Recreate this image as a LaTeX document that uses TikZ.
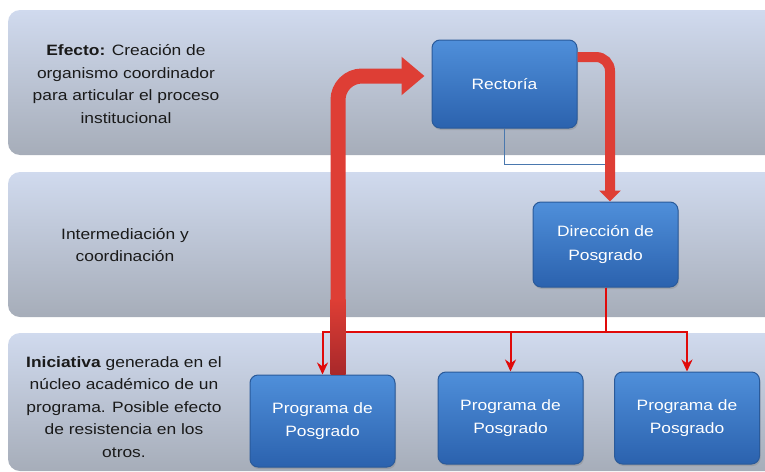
\documentclass[tikz,border=0pt]{standalone}
\usepackage{fontspec}
\setmainfont{Liberation Sans}[FakeStretch=1.16]
\usepackage{tikz}
\usetikzlibrary{arrows.meta, positioning, calc, shadows}
\definecolor{bandaTop}{HTML}{D0DAEE}
\definecolor{bandaBot}{HTML}{A6ADB9}
\definecolor{cajaTop}{HTML}{4F8FDA}
\definecolor{cajaBot}{HTML}{2B62AE}
\definecolor{cajaBorde}{HTML}{2A5A9A}
\definecolor{flechaRoja}{HTML}{DE3E35}
\definecolor{flechaOscura}{HTML}{A8282A}
\definecolor{ramaRoja}{HTML}{E00A0A}
\definecolor{enlaceAzul}{HTML}{4A78AE}
\definecolor{textoOscuro}{HTML}{1A1A1A}

\begin{document}
\begin{tikzpicture}[x=1pt, y=-1pt,
  banda/.style={top color=bandaTop, bottom color=bandaBot, rounded corners=12pt},
  unidad/.style={
    draw=cajaBorde, line width=1pt, top color=cajaTop, bottom color=cajaBot,
    rounded corners=8pt, minimum width=145pt, minimum height=88pt,
    align=center, text=white, font=\fontsize{15}{23.5}\selectfont,
    drop shadow={opacity=0.35, shadow xshift=1pt, shadow yshift=-2pt}
  },
  nota/.style={align=center, text=textoOscuro, font=\fontsize{15}{22.5}\selectfont},
  gruesa/.style={line width=15pt, color=flechaRoja, rounded corners=24pt, -{Triangle[width=37pt,length=23pt]}},
  media/.style={line width=10pt, color=flechaRoja, rounded corners=14pt, -{Triangle[width=21pt,length=11pt]}},
  rama/.style={line width=2pt, color=ramaRoja, -{Stealth[length=12pt,width=11pt]}},
  enlace/.style={line width=1.3pt, color=enlaceAzul}
]
  \useasboundingbox (0,0) rectangle (765,471);
  \clip (0,0) rectangle (765,471);

  \shade[banda] (8,10) rectangle (785,155);
  \shade[banda] (8,172) rectangle (785,317);
  \shade[banda] (8,333) rectangle (785,471);

  \node[nota] (efecto) at (126,84) {\textbf{Efecto:} Creación de\\organismo coordinador\\para articular el proceso\\institucional};
  \node[nota] (inter) at (125,245) {Intermediación y\\coordinación};
  \node[nota] (inic) at (124,407) {\textbf{Iniciativa} generada en el\\núcleo académico de un\\programa. Posible efecto\\de resistencia en los\\otros.};

  \node[unidad] (rect) at (504.5,84) {Rectoría};
  \node[unidad, minimum height=85pt] (dir) at (605.5,244.5) {Dirección de\\Posgrado};
  \node[unidad, minimum height=92pt] (prog1) at (322.5,421) {Programa de\\Posgrado};
  \node[unidad, minimum height=92pt] (prog2) at (510.5,418) {Programa de\\Posgrado};
  \node[unidad, minimum height=92pt] (prog3) at (687,418) {Programa de\\Posgrado};

  \draw[enlace] (rect.south) |- ([yshift=37pt]dir.north);
  \draw[media] ([yshift=27pt]rect.east) -| ([xshift=4.5pt]dir.north);

  \draw[rama] (dir.south) -- ++(0,44) -| (prog1.north);
  \draw[rama] (dir.south) -- ++(0,44) -| (prog2.north);
  \draw[rama] (dir.south) -- ++(0,44) -| (prog3.north);

  \draw[gruesa] ([xshift=15.5pt]prog1.north) |- ([xshift=-7pt,yshift=8pt]rect.west);
  \shade[top color=flechaRoja, bottom color=flechaOscura] ([xshift=8pt]prog1.north) rectangle ([xshift=23pt,yshift=75pt]prog1.north);
\end{tikzpicture}
\end{document}
